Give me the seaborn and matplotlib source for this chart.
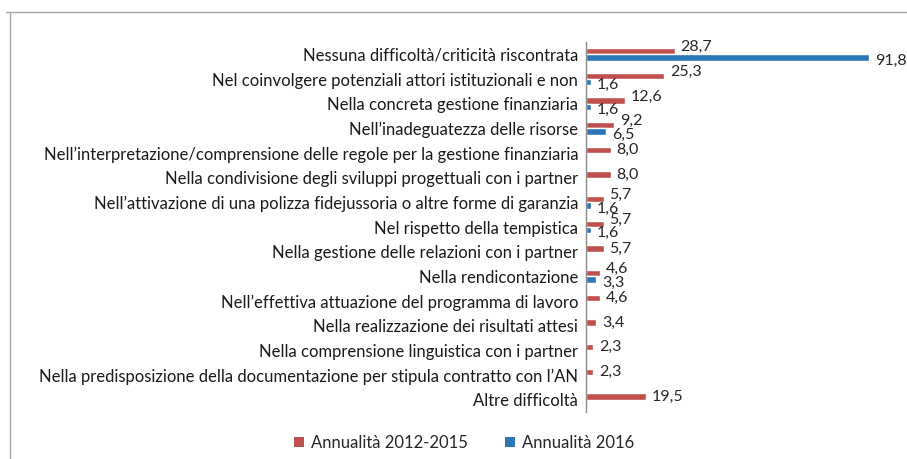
import numpy as np
import pandas as pd
import matplotlib.pyplot as plt
import seaborn as sns
from matplotlib.lines import Line2D
from matplotlib.patches import Patch

# data
categories = [
    "Nessuna difficoltà/criticità riscontrata",
    "Nel coinvolgere potenziali attori istituzionali e non",
    "Nella concreta gestione finanziaria",
    "Nell\u2019inadeguatezza delle risorse",
    "Nell\u2019interpretazione/comprensione delle regole per la gestione finanziaria",
    "Nella condivisione degli sviluppi progettuali con i partner",
    "Nell\u2019attivazione di una polizza fidejussoria o altre forme di garanzia",
    "Nel rispetto della tempistica",
    "Nella gestione delle relazioni con i partner",
    "Nella rendicontazione",
    "Nell\u2019effettiva attuazione del programma di lavoro",
    "Nella realizzazione dei risultati attesi",
    "Nella comprensione linguistica con i partner",
    "Nella predisposizione della documentazione per stipula contratto con l\u2019AN",
    "Altre difficoltà",
]
val_2012_2015 = [28.7, 25.3, 12.6, 9.2, 8.0, 8.0, 5.7, 5.7, 5.7, 4.6, 4.6, 3.4, 2.3, 2.3, 19.5]
val_2016 = [91.8, 1.6, 1.6, 6.5, np.nan, np.nan, 1.6, 1.6, np.nan, 3.3, np.nan, np.nan, np.nan, np.nan, np.nan]
series_names = ["Annualità 2012-2015", "Annualità 2016"]
colors = ["#C0504D", "#2E75B6"]

df = pd.concat([
    pd.DataFrame({"categoria": categories, "valore": val_2012_2015, "serie": series_names[0]}),
    pd.DataFrame({"categoria": categories, "valore": val_2016, "serie": series_names[1]}),
], ignore_index=True)

sns.set_style("white")
plt.rcParams["font.family"] = ["Lato", "DejaVu Sans"]
FS = 12

fig = plt.figure(figsize=(9.07, 4.59), dpi=100)
ax = fig.add_axes([0.646, 0.1024, 0.354, 0.806])

sns.barplot(data=df, x="valore", y="categoria", hue="serie", orient="h",
            palette=colors, width=0.52, ax=ax, legend=False,
            saturation=1, errorbar=None)

ax.set_xlim(0, 104)
ax.set_xlabel("")
ax.set_ylabel("")
ax.set_xticks([])
for s in ["top", "right", "bottom"]:
    ax.spines[s].set_visible(False)
ax.spines["left"].set_color("#8c8c8c")
ax.spines["left"].set_linewidth(1.0)
ax.tick_params(axis="y", length=0, pad=5.5, labelsize=FS, labelcolor="#1a1a1a")

# value labels: where both series exist, red label sits a bit higher, blue a bit lower
has_pair = [not np.isnan(v) for v in val_2016]
px = 72 / 100  # pixels -> points
for k, cont in enumerate(ax.containers):
    for i, bar in enumerate(cont):
        w = bar.get_width()
        if np.isnan(w) or w == 0:
            continue
        yc = bar.get_y() + bar.get_height() / 2
        cat = int(round(yc))
        if k == 0:
            off = 4 * px if has_pair[cat] else 0
        else:
            off = -3 * px
        ax.annotate(f"{w:.1f}".replace(".", ","), (w, yc),
                    xytext=(6 * px, off), textcoords="offset points",
                    ha="left", va="center", fontsize=11.5, color="#262626",
                    annotation_clip=False)

handles = [Patch(facecolor=c, edgecolor="none") for c in colors]
fig.legend(handles, series_names, loc="center", bbox_to_anchor=(0.512, 0.035),
           ncol=2, frameon=False, fontsize=FS, handlelength=0.6, handleheight=0.6,
           handletextpad=0.42, columnspacing=2.2, labelcolor="#262626")

# outer chart frame (top and left edges visible)
fig.add_artist(Line2D([0.007, 1.0], [0.974, 0.974], transform=fig.transFigure,
                      color="#a6a6a6", lw=1.0))
fig.add_artist(Line2D([0.011, 0.011], [0.0, 0.974], transform=fig.transFigure,
                      color="#a6a6a6", lw=1.0))

fig.savefig("out.png", dpi=100)
